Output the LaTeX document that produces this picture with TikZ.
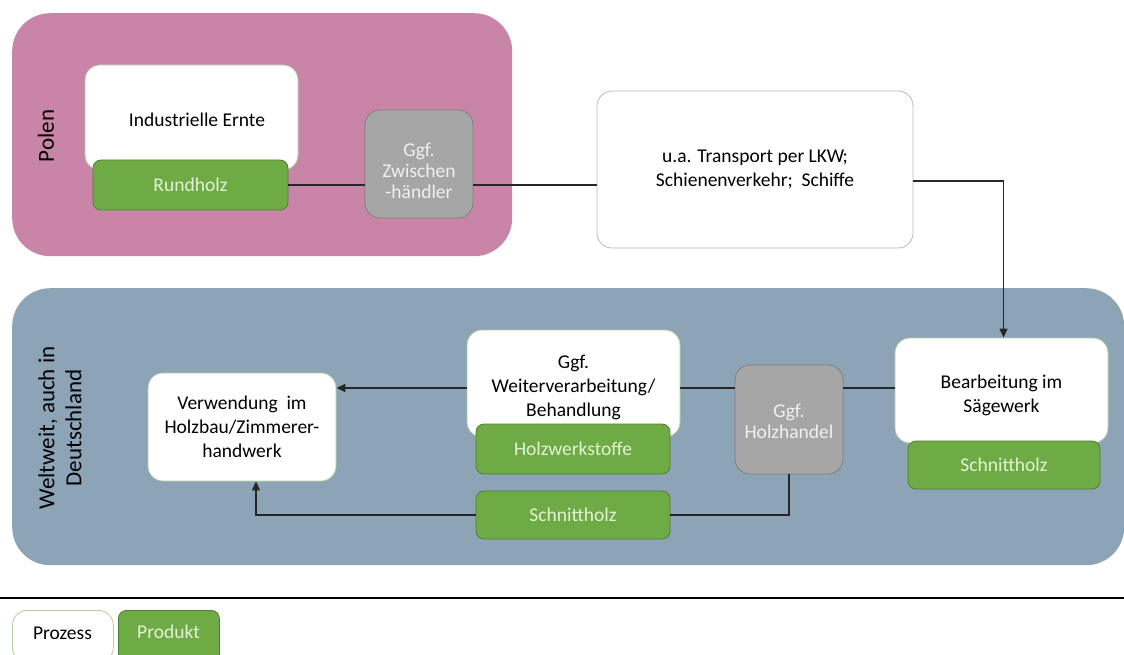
\documentclass[tikz,border=0pt]{standalone}
\usepackage{fontspec}
\setmainfont{Carlito}
\usetikzlibrary{arrows.meta}
\definecolor{polenbg}{HTML}{C885A8}
\definecolor{weltbg}{HTML}{8CA4B6}
\definecolor{prodgreen}{HTML}{6EAB44}
\definecolor{prodedge}{HTML}{4F7F33}
\definecolor{prodtext}{HTML}{E4F2D8}
\definecolor{tradegray}{HTML}{A6A6A6}
\definecolor{tradeedge}{HTML}{7F7F7F}
\definecolor{tradetext}{HTML}{F0F0F0}
\definecolor{procedge}{HTML}{B5CDA0}
\definecolor{linecol}{HTML}{262626}
\tikzset{
  region/.style={fill=#1, draw=none, rounded corners=38pt},
  proc/.style={fill=white, draw=procedge, line width=0.8pt, rounded corners=15pt,
    align=center, font=\fontsize{19.5}{24}\selectfont, text=black, inner sep=0pt},
  prod/.style={fill=prodgreen, draw=prodedge, line width=0.8pt, rounded corners=8pt,
    align=center, font=\fontsize{19.5}{24}\selectfont, text=prodtext, inner sep=0pt},
  trade/.style={fill=tradegray, draw=tradeedge, line width=0.8pt, rounded corners=15pt,
    align=center, font=\fontsize{19.5}{24}\selectfont, text=tradetext, inner sep=0pt},
  regionlabel/.style={rotate=90, align=center, font=\fontsize{23}{27}\selectfont, text=black},
  caption/.style={align=center, font=\fontsize{19.5}{24}\selectfont, text=black, inner sep=0pt},
  link/.style={draw=linecol, line width=1.3pt},
  flow/.style={link, -{Triangle[length=9pt,width=8pt]}},
}
\begin{document}
\begin{tikzpicture}[x=1pt,y=-1pt]
\useasboundingbox (0,0) rectangle (1124,655);
\clip (0,0) rectangle (1124,655);

% country regions
\node[region=polenbg, minimum width=500, minimum height=243, anchor=north west] (polen) at (12,13) {};
\node[region=weltbg, minimum width=1112, minimum height=277, anchor=north west] (welt) at (12,288) {};
\node[regionlabel] (polenlbl) at (46,136) {Polen};
\node[regionlabel] (weltlbl) at (60,428) {Weltweit, auch in\\Deutschland};

% Polen: harvest and intermediate trade
\node[proc, minimum width=213, minimum height=105] (ernte) at (191.5,117.5) {};
\node[caption] (erntetxt) at (197,120) {Industrielle Ernte};
\node[prod, minimum width=195, minimum height=50] (rund) at (190.5,185) {Rundholz};
\node[trade, minimum width=108, minimum height=108] (zw) at (419,164) {};
\node[caption, text=tradetext, font=\fontsize{19.5}{21}\selectfont] (zwtxt) at (419,171) {Ggf.\\Zwischen\\-händler};

% transport
\node[proc, draw=tradegray!80, minimum width=316, minimum height=157] (trans) at (755,169.5) {u.a. Transport per LKW;\\Schienenverkehr;\ \ Schiffe};

% processing in the destination region
\node[proc, minimum width=213, minimum height=105] (bear) at (1001.5,390.5) {};
\node[caption] (beartxt) at (1001.5,395) {Bearbeitung im\\Sägewerk};
\node[prod, minimum width=192, minimum height=48] (schn1) at (1004,465) {Schnittholz};
\node[trade, minimum width=108, minimum height=109] (hh) at (789,419.5) {};
\node[caption, text=tradetext, font=\fontsize{19.5}{21}\selectfont] (hhtxt) at (789,421) {Ggf.\\Holzhandel};
\node[proc, minimum width=213, minimum height=107] (weiter) at (573.5,383.5) {};
\node[caption] (weitertxt) at (573.5,387) {Ggf.\\Weiterverarbeitung/\\Behandlung};
\node[prod, minimum width=194, minimum height=50] (werk) at (573,449) {Holzwerkstoffe};
\node[prod, minimum width=194, minimum height=48] (schn2) at (573,515) {Schnittholz};
\node[proc, minimum width=188, minimum height=108] (verw) at (242,427) {Verwendung\ \ im\\Holzbau/Zimmerer-\\handwerk};

% connectors
\draw[link] (rund.east) -- (zw.west |- rund.east);
\draw[link] (zw.east |- rund.east) -- (trans.west |- rund.east);
\coordinate (bearin) at ([xshift=2pt]bear.north);
\draw[flow] (trans.east |- 0,181) -| (bearin);
\draw[link] (bear.west |- 0,388) -- (hh.east |- 0,388);
\draw[link] (hh.west |- 0,388) -- (weiter.east |- 0,388);
\draw[flow] (weiter.west |- 0,388) -- (verw.east |- 0,388);
\draw[link] (hh.south) |- (schn2.east);
\coordinate (verwin) at ([xshift=14pt]verw.south);
\draw[flow] (schn2.west) -| (verwin);

% legend
\draw[black, line width=2pt] (0,598) -- (1124,598);
\node[proc, minimum width=101, minimum height=52, anchor=north west] (lgproc) at (12,610) {};
\node[caption] (lgproctxt) at (62.5,633) {Prozess};
\node[prod, minimum width=101, minimum height=52, anchor=north west] (lgprod) at (118,610) {};
\node[caption, text=prodtext] (lgprodtxt) at (168.5,632) {Produkt};
\end{tikzpicture}
\end{document}
